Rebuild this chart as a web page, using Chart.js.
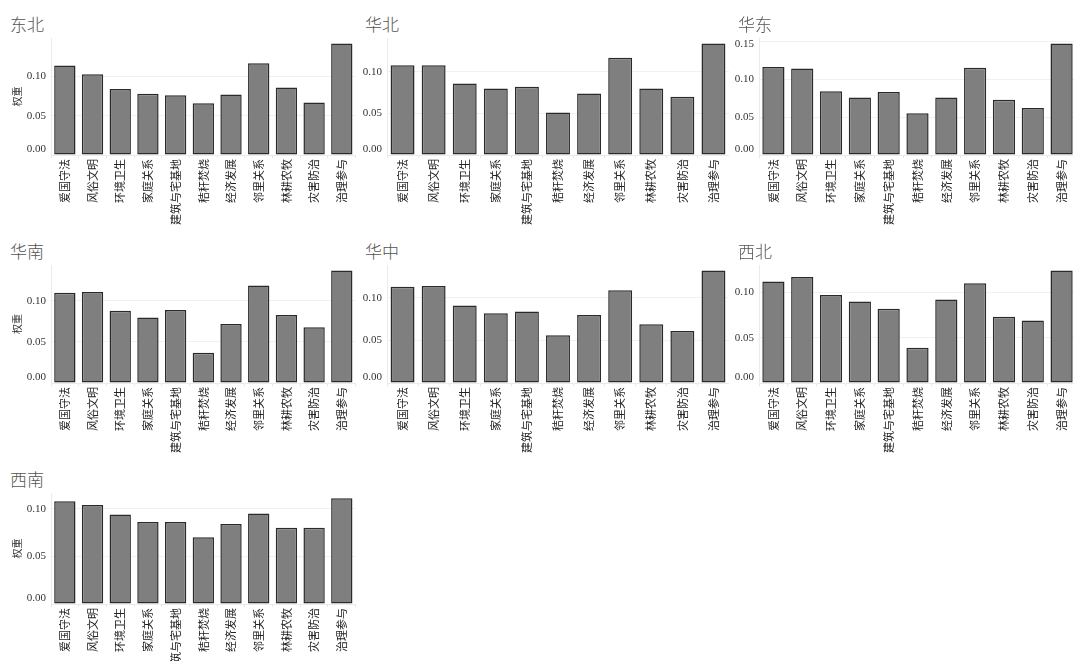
<!DOCTYPE html>
<html>
<head>
<meta charset="utf-8">
<script src="https://cdn.jsdelivr.net/npm/chart.js@4"></script>
<style>
  html, body { margin: 0; padding: 0; background: #fff; width: 1074px; height: 661px; overflow: hidden; position: relative; }
  canvas { position: absolute; }
  .ttl { position: absolute; font-family: "Noto Sans CJK SC"; font-weight: 300; font-size: 17px; color: #555; line-height: 1; white-space: nowrap; }
</style>
</head>
<body>
<script>
// Indicator categories (x axis)
const categories = ['爱国守法', '风俗文明', '环境卫生', '家庭关系', '建筑与宅基地', '秸秆焚烧', '经济发展', '邻里关系', '林耕农牧', '灾害防治', '治理参与'];

// Region names (panel titles)
const regionNames = ['东北', '华北', '华东', '华南', '华中', '西北', '西南'];

// Weight of each indicator per region
const weightsDongbei  = [0.114, 0.103, 0.084, 0.078, 0.076, 0.066, 0.077, 0.117, 0.086, 0.067, 0.142];
const weightsHuabei   = [0.108, 0.108, 0.086, 0.080, 0.082, 0.051, 0.074, 0.117, 0.080, 0.070, 0.134];
const weightsHuadong  = [0.116, 0.114, 0.084, 0.076, 0.083, 0.055, 0.076, 0.115, 0.073, 0.062, 0.147];
const weightsHuanan   = [0.110, 0.111, 0.088, 0.080, 0.089, 0.037, 0.072, 0.119, 0.083, 0.068, 0.137];
const weightsHuazhong = [0.113, 0.114, 0.091, 0.082, 0.084, 0.056, 0.080, 0.109, 0.069, 0.061, 0.132];
const weightsXibei    = [0.112, 0.117, 0.097, 0.090, 0.082, 0.039, 0.092, 0.110, 0.073, 0.069, 0.124];
const weightsXinan    = [0.108, 0.104, 0.094, 0.086, 0.086, 0.070, 0.084, 0.095, 0.080, 0.080, 0.111];

const regionWeights = [weightsDongbei, weightsHuabei, weightsHuadong, weightsHuanan, weightsHuazhong, weightsXibei, weightsXinan];

// Y axis tick step and title
const yTickStep = 0.05;
const yAxisTitle = '权重';

// Plot boxes on the page (left, top, right, bottom) and title x for each panel
const frames = [
  { l: 51,  t: 38,  r: 356,  b: 155, tx: 10,  yTitle: true },
  { l: 387, t: 38,  r: 729,  b: 155, tx: 365 },
  { l: 759, t: 38,  r: 1076, b: 155, tx: 738 },
  { l: 51,  t: 265, r: 356,  b: 383, tx: 10,  yTitle: true },
  { l: 387, t: 265, r: 729,  b: 383, tx: 365 },
  { l: 759, t: 265, r: 1076, b: 383, tx: 738 },
  { l: 51,  t: 493, r: 356,  b: 604, tx: 10,  yTitle: true }
];

const Y_AXIS_W = 50, PAD_TOP = 30, X_AXIS_H = 75;

// Y tick labels kept inside the plot box, plus the rotated axis title
const yLabelPlugin = {
  id: 'yLabels',
  afterDraw(chart, args, opts) {
    const { ctx, chartArea: a } = chart;
    const y = chart.scales.y;
    ctx.save();
    ctx.font = '11px "Liberation Serif"';
    ctx.fillStyle = '#333';
    ctx.textAlign = 'right';
    ctx.textBaseline = 'middle';
    y.ticks.forEach(tk => {
      let py = y.getPixelForValue(tk.value);
      py = Math.min(Math.max(py, a.top + 6), a.bottom - 6);
      ctx.fillText(tk.value.toFixed(2), a.left - 5, py);
    });
    if (opts.title) {
      ctx.translate(a.left - 34, (a.top + a.bottom) / 2);
      ctx.rotate(-Math.PI / 2);
      ctx.font = '10px "Noto Sans CJK SC"';
      ctx.textAlign = 'center';
      ctx.fillText(opts.title, 0, 0);
    }
    ctx.restore();
  }
};

regionNames.forEach((name, i) => {
  const f = frames[i];
  const values = regionWeights[i];

  const title = document.createElement('div');
  title.className = 'ttl';
  title.textContent = name;
  title.style.left = f.tx + 'px';
  title.style.top = (f.t - 23) + 'px';
  document.body.appendChild(title);

  const canvas = document.createElement('canvas');
  const w = (f.r - f.l) + Y_AXIS_W;
  const h = PAD_TOP + (f.b - f.t) + X_AXIS_H;
  canvas.width = w; canvas.height = h;
  canvas.style.width = w + 'px'; canvas.style.height = h + 'px';
  canvas.style.left = (f.l - Y_AXIS_W) + 'px';
  canvas.style.top = (f.t - PAD_TOP) + 'px';
  document.body.appendChild(canvas);

  const maxVal = Math.max(...values);

  new Chart(canvas, {
    type: 'bar',
    data: {
      labels: categories,
      datasets: [{
        data: values,
        backgroundColor: '#7f7f7f',
        borderColor: '#2a2a2a',
        borderWidth: 1.5,
        borderSkipped: false,
        barPercentage: 0.77,
        categoryPercentage: 1.0
      }]
    },
    plugins: [yLabelPlugin],
    options: {
      responsive: false,
      animation: false,
      devicePixelRatio: 1,
      layout: { padding: { top: PAD_TOP, left: 0, right: 0, bottom: 0 } },
      plugins: {
        legend: { display: false },
        tooltip: { enabled: false },
        yLabels: { title: f.yTitle ? yAxisTitle : null }
      },
      scales: {
        x: {
          offset: true,
          grid: { display: true, drawOnChartArea: false, drawTicks: true, tickLength: 3, color: '#e6e6e6', offset: true },
          border: { display: true, color: '#ebebeb' },
          ticks: {
            autoSkip: false, maxRotation: 90, minRotation: 90, padding: 1,
            color: '#222', font: { family: '"Noto Sans CJK SC"', size: 11 }
          },
          afterFit: s => { s.height = X_AXIS_H; }
        },
        y: {
          min: 0,
          max: maxVal * 1.05,
          grid: { color: '#f1f1f1', drawTicks: false },
          border: { display: true, color: '#ebebeb' },
          ticks: { display: false, stepSize: yTickStep, includeBounds: false },
          afterFit: s => { s.width = Y_AXIS_W; }
        }
      }
    }
  });
});
</script>
</body>
</html>
